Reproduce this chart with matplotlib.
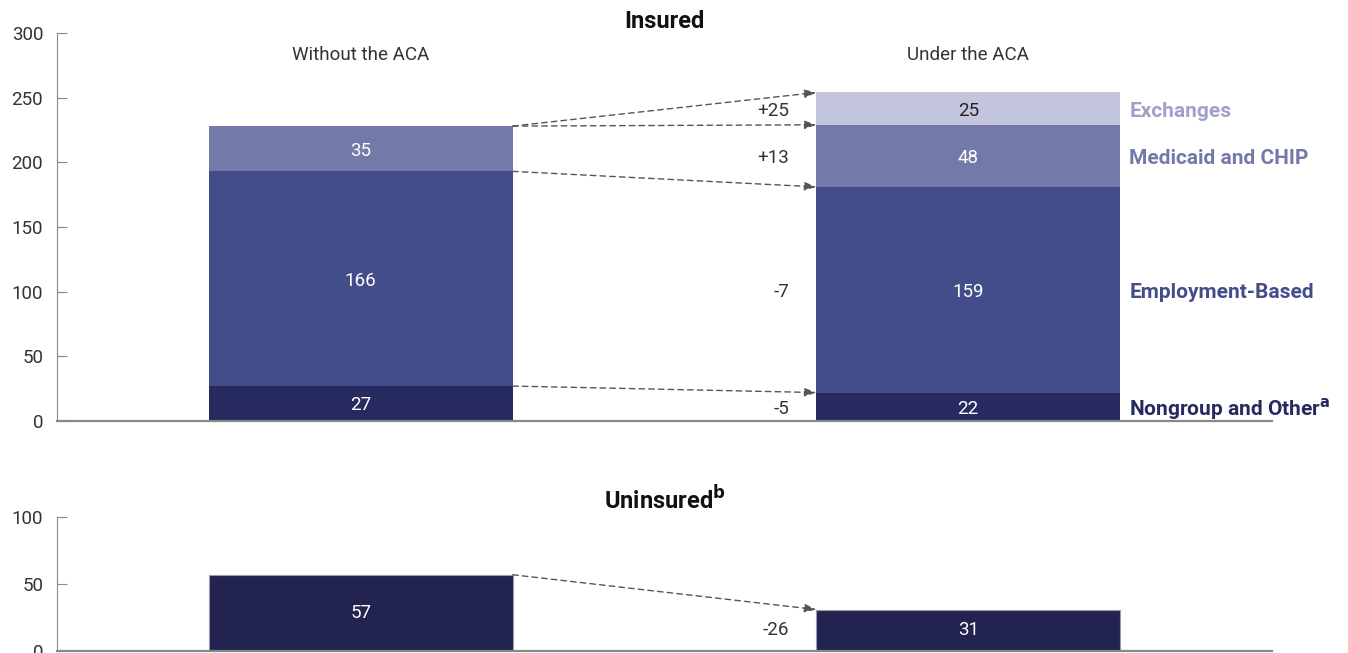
import matplotlib
matplotlib.use("Agg")
import matplotlib.pyplot as plt

plt.rcParams['font.family'] = ['Roboto', 'DejaVu Sans']

# data (millions of people)
scenarios = ["Without the ACA", "Under the ACA"]
categories = ["Nongroup and Other$^{\\mathbf{a}}$", "Employment-Based", "Medicaid and CHIP", "Exchanges"]
without_aca = [27, 166, 35, 0]
under_aca = [22, 159, 48, 25]
changes = ["-5", "-7", "+13", "+25"]
uninsured = [57, 31]
uninsured_change = "-26"

colors = ["#272a5e", "#434d8a", "#7379a8", "#c3c5dc"]
label_colors = ["#272a5e", "#434d8a", "#7379a8", "#9ea1c9"]
value_colors = ["white", "white", "white", "#222222"]
uninsured_color = "#222350"
arrow_color = "#555555"
text_color = "#333333"
axis_color = "#888888"

fig = plt.figure(figsize=(13.48, 6.53), dpi=100)
ax = fig.add_axes([0.0423, 0.3553, 0.9013, 0.5942])
ax2 = fig.add_axes([0.0423, 0.003, 0.9013, 0.205])

width = 0.5
xpos = [0, 1]


def style_axis(a, ymax, step):
    a.set_xlim(-0.5, 1.5)
    a.set_ylim(0, ymax)
    a.set_yticks(range(0, ymax + 1, step))
    a.set_xticks([])
    for s in ["top", "right"]:
        a.spines[s].set_visible(False)
    a.spines["left"].set_color(axis_color)
    a.spines["left"].set_linewidth(0.8)
    a.spines["bottom"].set_color(axis_color)
    a.spines["bottom"].set_linewidth(1.6)
    a.tick_params(axis="y", direction="in", length=7, color=axis_color,
                  labelsize=13.5, labelcolor=text_color, pad=10)


def dashed_arrow(a, x0, y0, x1, y1):
    a.annotate("", xy=(x1, y1), xytext=(x0, y0),
               arrowprops=dict(arrowstyle="-|>,head_length=0.7,head_width=0.25",
                               linestyle=(0, (4, 3)), color=arrow_color, lw=1,
                               shrinkA=0, shrinkB=0))


# ---- insured panel ----
style_axis(ax, 300, 50)
for i, vals in enumerate([without_aca, under_aca]):
    bottom = 0
    for j, v in enumerate(vals):
        if v == 0:
            continue
        ax.bar(xpos[i], v, width, bottom=bottom, color=colors[j], linewidth=0)
        ax.text(xpos[i], bottom + v / 2 - 1.5, str(v), ha="center", va="center",
                fontsize=13.5, color=value_colors[j])
        bottom += v

cum_w = [sum(without_aca[:k + 1]) for k in range(4)]
cum_u = [sum(under_aca[:k + 1]) for k in range(4)]
mid_u = [cum_u[k] - under_aca[k] / 2 for k in range(4)]

x0 = xpos[0] + width / 2
x1 = xpos[1] - width / 2
dashed_arrow(ax, x0, cum_w[0], x1, cum_u[0])
dashed_arrow(ax, x0, cum_w[1], x1, cum_u[1])
dashed_arrow(ax, x0, cum_w[2], x1, cum_u[2])
dashed_arrow(ax, x0, cum_w[2], x1, cum_u[3])

for k in range(4):
    ax.text(x1 - 0.045, mid_u[k] - 1.5, changes[k], ha="right", va="center",
            fontsize=13.5, color=text_color)
    ax.text(1.265, mid_u[k] - 2, categories[k], ha="left", va="center",
            fontsize=15, fontweight="bold", color=label_colors[k])

for i, name in enumerate(scenarios):
    ax.text(xpos[i], 283, name, ha="center", va="center", fontsize=13.5, color=text_color)
ax.text(0.5, 1.0, "Insured", transform=ax.transAxes, ha="center", va="bottom",
        fontsize=17, fontweight="bold", color="#111111")

# ---- uninsured panel ----
style_axis(ax2, 100, 50)
for i, v in enumerate(uninsured):
    ax2.bar(xpos[i], v, width, color=uninsured_color, edgecolor="#9a9aae", linewidth=0.8)
    ax2.text(xpos[i], v / 2, str(v), ha="center", va="center", fontsize=13.5, color="white")
dashed_arrow(ax2, x0, uninsured[0], x1, uninsured[1])
ax2.text(x1 - 0.045, uninsured[1] / 2, uninsured_change, ha="right", va="center",
         fontsize=13.5, color=text_color)
ax2.text(0.5, 1.02, "Uninsured$^{\\mathbf{b}}$", transform=ax2.transAxes, ha="center",
         va="bottom", fontsize=17, fontweight="bold", color="#111111")

fig.savefig("out.png", dpi=100)
